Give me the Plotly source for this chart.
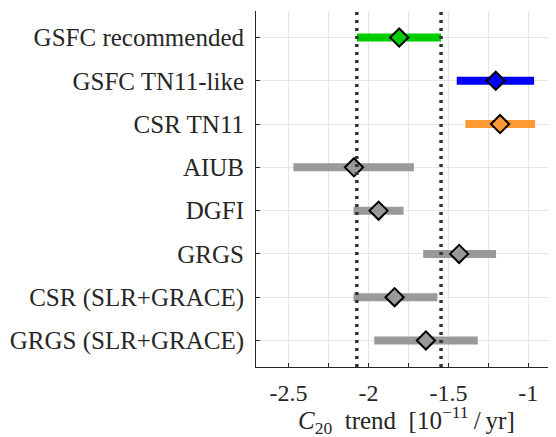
import plotly.graph_objects as go

categories = ["GSFC recommended", "GSFC TN11-like", "CSR TN11", "AIUB", "DGFI",
              "GRGS", "CSR (SLR+GRACE)", "GRGS (SLR+GRACE)"]
center = [-1.808, -1.204, -1.177, -2.091, -1.937, -1.433, -1.837, -1.641]
low = [-2.073, -1.448, -1.394, -2.470, -2.094, -1.658, -2.094, -1.964]
high = [-1.546, -0.964, -0.958, -1.716, -1.781, -1.202, -1.569, -1.316]
colors = ["#00cc00", "#0000ff", "#ff9933", "#999999", "#999999", "#999999", "#999999", "#999999"]
xtick_vals = [-2.5, -2, -1.5, -1]
xtick_text = ["-2.5", "-2", "-1.5", "-1"]
xrange_ = [-2.704, -0.827]

serif = "Liberation Serif, Times New Roman, serif"
axcol = "#262626"

fig = go.Figure()
for i, cat in enumerate(categories):
    fig.add_trace(go.Scatter(x=[low[i], high[i]], y=[cat, cat], mode="lines",
                             line=dict(color=colors[i], width=8), showlegend=False,
                             hoverinfo="skip"))
for i, cat in enumerate(categories):
    fig.add_trace(go.Scatter(x=[center[i]], y=[cat], mode="markers",
                             marker=dict(symbol="diamond", size=14, color=colors[i],
                                         line=dict(color="black", width=2)),
                             showlegend=False))
# invisible trace to anchor the overlay axis carrying the inside tick marks
fig.add_trace(go.Scatter(x=[center[0]], y=[categories[0]], xaxis="x2", mode="markers",
                         marker=dict(opacity=0), showlegend=False, hoverinfo="skip"))

for xv in (low[0], high[0]):
    fig.add_shape(type="line", x0=xv, x1=xv, y0=0, y1=1, xref="x", yref="paper",
                  line=dict(color="#333333", width=3.5, dash="3px,5px"), layer="above")

title_txt = ("<i>C</i><sub>20</sub>\u00a0\u00a0trend\u00a0\u00a0[10<sup>\u221211</sup>"
             "\u2009/\u2009yr]")
fig.add_annotation(text=title_txt, xref="paper", yref="paper", x=0.5, y=0,
                   xanchor="center", yanchor="middle", yshift=-53, showarrow=False,
                   font=dict(family=serif, size=25, color=axcol))

fig.update_layout(
    width=548, height=429,
    margin=dict(l=248, r=0, t=3, b=70),
    plot_bgcolor="white", paper_bgcolor="white",
    font=dict(family=serif, size=23, color=axcol),
    xaxis=dict(range=xrange_, tickvals=xtick_vals, ticktext=xtick_text,
               showgrid=True, gridcolor="#e6e6e6", gridwidth=1,
               minor=dict(dtick=0.25, tick0=-2.5, showgrid=True, gridcolor="#e6e6e6"),
               ticks="outside", ticklen=4, tickcolor="rgba(0,0,0,0)",
               showline=True, linecolor=axcol, linewidth=1, zeroline=False,
               tickfont=dict(family=serif, size=24), automargin=False),
    xaxis2=dict(range=xrange_, overlaying="x", side="bottom", anchor="y",
                dtick=0.25, tick0=-2.5, ticks="inside", ticklen=4, tickcolor=axcol,
                showticklabels=False, showgrid=False, zeroline=False, showline=False),
    yaxis=dict(type="category", categoryorder="array", categoryarray=categories,
               autorange="reversed", range=[7.5, -0.5],
               showgrid=True, gridcolor="#e6e6e6", gridwidth=1,
               ticks="inside", ticklen=4, tickcolor=axcol,
               showline=True, linecolor=axcol, linewidth=1, zeroline=False,
               ticklabelstandoff=6, automargin=False,
               tickfont=dict(family=serif, size=25)),
)

fig.write_html("out.html")
